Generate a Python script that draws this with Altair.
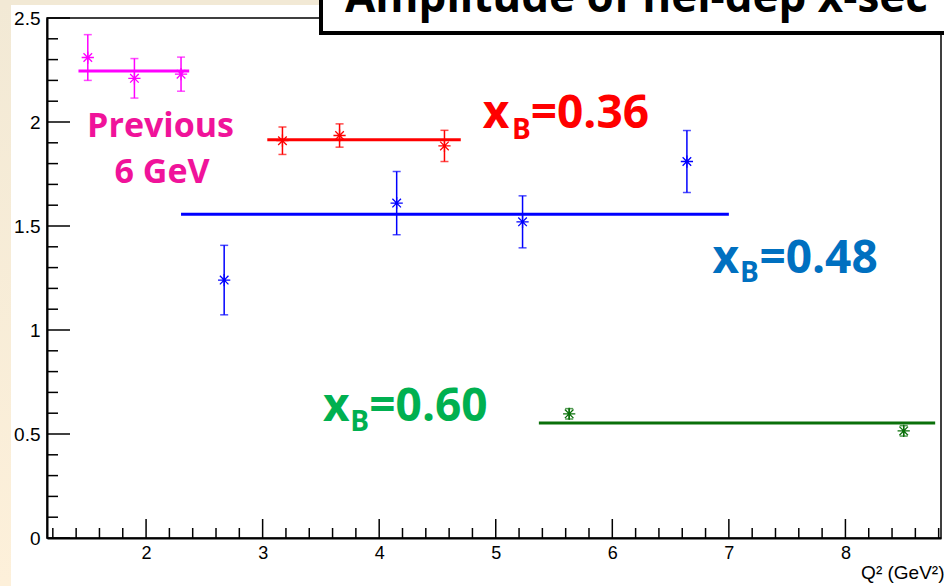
import altair as alt
import pandas as pd

# ---------------- data ----------------
mag_q2 = [1.50, 1.90, 2.30]
mag_amp = [2.31, 2.21, 2.23]
mag_err = [0.11, 0.095, 0.082]

red_q2 = [3.17, 3.66, 4.56]
red_amp = [1.91, 1.935, 1.885]
red_err = [0.066, 0.056, 0.075]

blue_q2 = [2.67, 4.15, 5.23, 6.64]
blue_amp = [1.24, 1.61, 1.52, 1.81]
blue_err = [0.167, 0.152, 0.125, 0.149]

green_q2 = [5.63, 8.50]
green_amp = [0.597, 0.515]
green_err = [0.025, 0.025]

fit_series = ["prev", "x036", "x048", "x060"]
fit_lo = [1.42, 3.04, 2.30, 5.37]
fit_hi = [2.37, 4.70, 7.00, 8.77]
fit_amp = [2.245, 1.915, 1.556, 0.553]

series_names = ["prev", "x036", "x048", "x060"]
series_colors = ["#ff00ff", "#ff0000", "#0000ff", "#006400"]
fit_colors = ["#ff00ff", "#ff0000", "#0000ff", "#0a700a"]

x_major = [2, 3, 4, 5, 6, 7, 8]
x_minor = [round(1.2 + 0.2 * i, 1) for i in range(39)]
x_minor = [v for v in x_minor if abs(v - round(v)) > 1e-6]
y_major = [0, 0.5, 1, 1.5, 2, 2.5]
y_minor = [round(0.1 * i, 1) for i in range(26)]
y_minor = [v for v in y_minor if abs(v * 2 - round(v * 2)) > 1e-6]

title_text = "Amplitude of hel-dep x-sec"
axis_title = "Q² (GeV²)"

# annotation text pieces (text, q2, amp, colour, font size)
ann_left_text = ["x", "B", "=0.36", "x", "B", "=0.48", "x", "B", "=0.60"]
ann_left_q2 = [4.888, 5.140, 5.300, 6.859, 7.095, 7.262, 3.517, 3.752, 3.915]
ann_left_amp = [1.971, 1.920, 1.971, 1.274, 1.229, 1.274, 0.5625, 0.514, 0.5625]
ann_left_color = ["#ff0000"] * 3 + ["#0070c0"] * 3 + ["#00b050"] * 3
ann_left_size = [46, 28, 46] * 3

ann_center_text = ["Previous", "6 GeV"]
ann_center_q2 = [2.124, 2.137]
ann_center_amp = [1.928, 1.707]
ann_center_color = ["#f0139a", "#f0139a"]
ann_center_size = [34, 34]

# ---------------- tables ----------------
rows = []
for name, q, a, e in [("prev", mag_q2, mag_amp, mag_err),
                      ("x036", red_q2, red_amp, red_err),
                      ("x048", blue_q2, blue_amp, blue_err),
                      ("x060", green_q2, green_amp, green_err)]:
    for qi, ai, ei in zip(q, a, e):
        rows.append({"series": name, "q2": qi, "amp": ai,
                     "lo": ai - ei, "hi": ai + ei})
pts = pd.DataFrame(rows)
fits = pd.DataFrame({"series": fit_series, "q2": fit_lo, "q2b": fit_hi, "amp": fit_amp})
ann_l = pd.DataFrame({"t": ann_left_text, "q2": ann_left_q2, "amp": ann_left_amp,
                      "c": ann_left_color, "s": ann_left_size})
ann_c = pd.DataFrame({"t": ann_center_text, "q2": ann_center_q2, "amp": ann_center_amp,
                      "c": ann_center_color, "s": ann_center_size})

W, H = 894, 520
xs = alt.Scale(domain=[1.15, 8.82], nice=False, zero=False)
ys = alt.Scale(domain=[0, 2.5], nice=False, zero=False)
xaxis = alt.Axis(values=x_major, format="d", ticks=False, grid=False,
                 domainColor="black", domainWidth=2, labelFont="Liberation Sans",
                 labelFontSize=18, labelColor="black", labelPadding=6,
                 labelFlush=False, title=axis_title, titleFont="Liberation Sans",
                 titleFontSize=19, titleFontWeight="normal", titleColor="black",
                 titleAlign="right", titleAnchor="end", titleBaseline="alphabetic",
                 titleX=W + 3, titleY=40)
yaxis = alt.Axis(values=y_major, format="~g", ticks=False, grid=False,
                 domainColor="black", domainWidth=2, labelFont="Liberation Sans",
                 labelFontSize=19, labelColor="black", labelPadding=7,
                 labelFlush=False, title=None)


def X(f="q2"):
    return alt.X(f, type="quantitative", scale=xs, axis=xaxis)


def Y(f="amp"):
    return alt.Y(f, type="quantitative", scale=ys, axis=yaxis)


one = alt.Data(values=[{}])
cream = alt.Gradient(gradient="linear",
                     stops=[alt.GradientStop(color="#f2e9d5", offset=0),
                            alt.GradientStop(color="#fdf0da", offset=1)],
                     x1=0, x2=0, y1=0, y2=1)

left_strip = alt.Chart(one).mark_rect(color=cream).encode(
    x=alt.value(-47), x2=alt.value(-36), y=alt.value(-18), y2=alt.value(H + 48))
top_strip = alt.Chart(one).mark_rect(color="#f2e9d5").encode(
    x=alt.value(-47), x2=alt.value(276), y=alt.value(-18), y2=alt.value(-13))

ymaj = alt.Chart(pd.DataFrame({"amp": y_major})).mark_rule(color="black", strokeWidth=1.5).encode(
    y=Y(), x=alt.value(0), x2=alt.value(23))
ymin = alt.Chart(pd.DataFrame({"amp": y_minor})).mark_rule(color="black", strokeWidth=1.5).encode(
    y=Y(), x=alt.value(0), x2=alt.value(11))
xmaj = alt.Chart(pd.DataFrame({"q2": x_major})).mark_rule(color="black", strokeWidth=1.5).encode(
    x=X(), y=alt.value(H), y2=alt.value(H - 19))
xmin = alt.Chart(pd.DataFrame({"q2": x_minor})).mark_rule(color="black", strokeWidth=1.5).encode(
    x=X(), y=alt.value(H), y2=alt.value(H - 10))

col_pts = alt.Color("series:N", scale=alt.Scale(domain=series_names, range=series_colors), legend=None)
col_fit = alt.Color("series:N", scale=alt.Scale(domain=series_names, range=fit_colors), legend=None)

fit_lines = alt.Chart(fits).mark_rule(strokeWidth=3).encode(
    x=X(), x2="q2b:Q", y=Y(), color=col_fit)

err = alt.Chart(pts).mark_rule(strokeWidth=1.5).encode(
    x=X(), y=Y("lo"), y2="hi:Q", color=col_pts)
cap_lo = alt.Chart(pts).mark_tick(orient="horizontal", size=8, thickness=1.5).encode(
    x=X(), y=Y("lo"), color=col_pts)
cap_hi = alt.Chart(pts).mark_tick(orient="horizontal", size=8, thickness=1.5).encode(
    x=X(), y=Y("hi"), color=col_pts)
star = "M-1,0L1,0M0,-1L0,1M-0.7,-0.7L0.7,0.7M-0.7,0.7L0.7,-0.7"
points = alt.Chart(pts).mark_point(shape=star, filled=False, strokeWidth=1.3, size=150, opacity=1).encode(
    x=X(), y=Y(), color=col_pts)

lab_l = alt.Chart(ann_l).mark_text(align="left", baseline="alphabetic", font="Open Sans",
                                   fontWeight="bold").encode(
    x=X(), y=Y(), text="t:N", color=alt.Color("c:N", scale=None),
    size=alt.Size("s:Q", scale=None))
lab_c = alt.Chart(ann_c).mark_text(align="center", baseline="alphabetic", font="Open Sans",
                                   fontWeight="bold").encode(
    x=X(), y=Y(), text="t:N", color=alt.Color("c:N", scale=None),
    size=alt.Size("s:Q", scale=None))

tbox = alt.Chart(one).mark_rect(fill="white", stroke="black", strokeWidth=4).encode(
    x=alt.value(274), x2=alt.value(W + 30), y=alt.value(-60), y2=alt.value(15))
ttext = alt.Chart(one).mark_text(text=title_text, align="left", baseline="alphabetic",
                                 font="Open Sans", fontWeight="bold", fontSize=44,
                                 color="black").encode(
    x=alt.value(298), y=alt.value(-6))

chart = alt.layer(
    left_strip, top_strip, ymin, ymaj, xmin, xmaj, fit_lines, err, cap_lo, cap_hi,
    points, lab_l, lab_c, tbox, ttext
).properties(
    width=W, height=H,
    padding={"left": 47, "top": 18, "right": 3, "bottom": 48},
    autosize=alt.AutoSizeParams(type="none"),
    background="white",
).configure_view(stroke="black", strokeWidth=1.5)

chart.save("out.html", embed_options={"renderer": "svg", "actions": False})
